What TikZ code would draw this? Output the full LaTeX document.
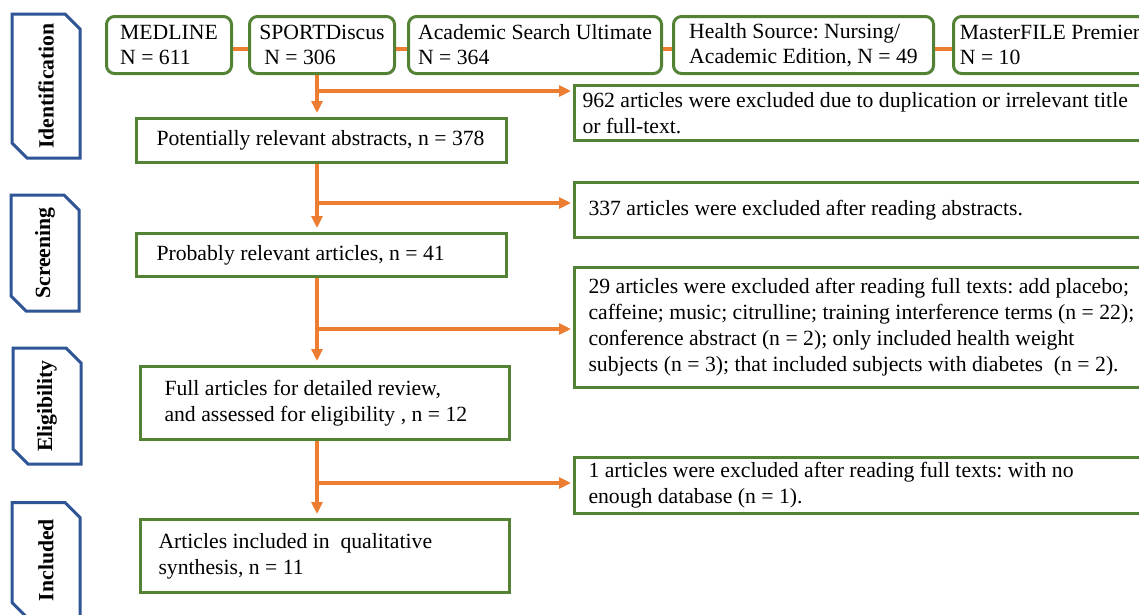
\documentclass[tikz,border=0pt]{standalone}
\usepackage{fontspec}
\setmainfont{Liberation Serif}
\usetikzlibrary{arrows.meta,shapes.misc}
\definecolor{pgreen}{RGB}{84,130,53}
\definecolor{porange}{RGB}{237,125,49}
\definecolor{pblue}{RGB}{47,85,151}
\tikzset{
  txt/.style={font=\fontsize{21.7}{26}\selectfont\frenchspacing},
  srcbox/.style={draw=pgreen,line width=3pt,rounded corners=8pt,minimum height=57pt,inner xsep=0pt,inner ysep=0pt,align=left,anchor=north west,font=\fontsize{21.7}{25}\selectfont\frenchspacing},
  stepbox/.style={txt,draw=pgreen,line width=3pt,inner ysep=0pt,align=flush left,anchor=north west},
  exclbox/.style={txt,draw=pgreen,line width=3pt,inner ysep=0pt,align=flush left,anchor=north west},
  stage/.style={chamfered rectangle,chamfered rectangle corners={north east,south west},chamfered rectangle xsep=12pt,draw=pblue,line width=3pt,minimum width=68pt,inner sep=0pt,font=\fontsize{21.7}{26}\selectfont\bfseries},
  flow/.style={draw=porange,line width=3.2pt},
  flowarrow/.style={flow,-{Triangle[length=12pt,width=11pt]}},
}
\begin{document}
\begin{tikzpicture}[x=1pt,y=-1pt]
  \useasboundingbox (0,0) rectangle (1139,614);
  \fill[white] (0,0) rectangle (1139,614);
  \clip (0,0) rectangle (1139,614);

  % stages
  \node[stage,minimum height=144pt] (sid) at (46,86) {\rotatebox{90}{Identification}};
  \node[stage,minimum height=116pt] (sscr) at (45,253) {\rotatebox{90}{Screening}};
  \node[stage,minimum height=116pt] (selig) at (47,406) {\rotatebox{90}{Eligibility}};
  \node[stage,minimum height=115pt] (sincl) at (46,560) {\rotatebox{90}{Included}};

  % databases
  \node[srcbox,minimum width=125pt] (medline) at (105,15) {MEDLINE\\N = 611};
  \node[srcbox,minimum width=145pt] (sport) at (248,15) {SPORTDiscus\\\hspace{5pt}N = 306};
  \node[srcbox,minimum width=253pt] (acad) at (407,15) {Academic Search Ultimate\\N = 364};
  \node[srcbox,minimum width=260pt] (health) at (672,15) {Health Source: Nursing/\\Academic Edition, N = 49};
  \node[srcbox,minimum width=193pt] (master) at (952,15) {MasterFILE Premier\\N = 10};
  \draw[flow] ([yshift=-4pt]medline.east) -- ([yshift=-4pt]sport.west);
  \draw[flow] ([yshift=-4pt]sport.east) -- ([yshift=-4pt]acad.west);
  \draw[flow] ([yshift=-4pt]acad.east) -- ([yshift=-4pt]health.west);
  \draw[flow] ([yshift=-4pt]health.east) -- ([yshift=-4pt]master.west);

  % main flow
  \node[stepbox,text width=330pt,inner xsep=20pt,minimum height=44pt] (pot) at (135,117) {Potentially relevant abstracts, n = 378};
  \node[stepbox,text width=330pt,inner xsep=20pt,minimum height=43pt] (prob) at (135,232) {Probably relevant articles, n = 41};
  \node[stepbox,text width=321pt,inner xsep=24pt,minimum height=73pt] (full) at (139,365) {Full articles for detailed review,\\and assessed for eligibility , n = 12};
  \node[stepbox,text width=333pt,inner xsep=18pt,minimum height=73pt] (incl) at (139,518) {Articles included in\ \ qualitative\\synthesis, n = 11};

  % exclusions
  \node[exclbox,text width=561pt,inner xsep=8pt,minimum height=55pt] (exc1) at (573,84) {962 articles were excluded due to duplication or irrelevant title\\or full-text.};
  \node[exclbox,text width=549pt,inner xsep=14pt,minimum height=55pt] (exc2) at (573,181) {337 articles were excluded after reading abstracts.};
  \node[exclbox,text width=549pt,inner xsep=14pt,minimum height=120pt] (exc3) at (573,266) {29 articles were excluded after reading full texts: add placebo;\\caffeine; music; citrulline; training interference terms (n = 22);\\conference abstract (n = 2); only included health weight\\subjects (n = 3); that included subjects with diabetes\ \ (n = 2).};
  \node[exclbox,text width=549pt,inner xsep=14pt,minimum height=56pt] (exc4) at (573,456) {1 articles were excluded after reading full texts: with no\\enough database (n = 1).};

  % connectors
  \coordinate (trunk) at (317,0);
  \coordinate (b1) at (317,91);
  \coordinate (b2) at (317,203);
  \coordinate (b3) at (317,329);
  \coordinate (b4) at (317,483);
  \draw[flowarrow,shorten >=4pt] (sport.south -| trunk) -- (pot.north -| trunk);
  \draw[flowarrow,shorten >=4pt] (pot.south -| trunk) -- (prob.north -| trunk);
  \draw[flowarrow,shorten >=4pt] (prob.south -| trunk) -- (full.north -| trunk);
  \draw[flowarrow,shorten >=4pt] (full.south -| trunk) -- (incl.north -| trunk);
  \draw[flowarrow,shorten >=2pt] (b1) -- (b1 -| exc1.west);
  \draw[flowarrow,shorten >=2pt] (b2) -- (b2 -| exc2.west);
  \draw[flowarrow,shorten >=2pt] (b3) -- (b3 -| exc3.west);
  \draw[flowarrow,shorten >=2pt] (b4) -- (b4 -| exc4.west);
\end{tikzpicture}
\end{document}
